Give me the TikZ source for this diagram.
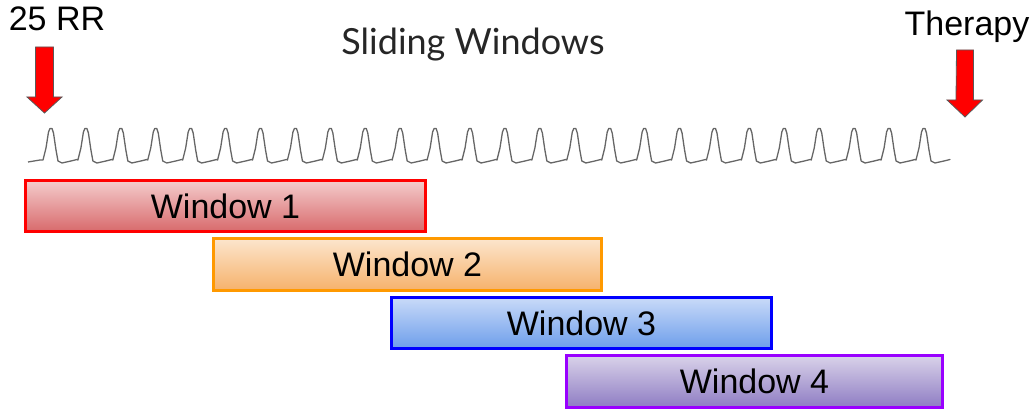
\documentclass[tikz,border=0pt]{standalone}
\usepackage{fontspec}
\setmainfont{Liberation Sans}
\newfontfamily\titlefont{Lato}
\begin{document}
\begin{tikzpicture}[x=1pt,y=-1pt,
  win/.style={draw, line width=3pt, inner sep=0pt, font=\fontsize{34}{36}\selectfont},
  lbl/.style={anchor=base, inner sep=0pt, font=\fontsize{34}{36}\selectfont},
  blockarrow/.style={fill=red, draw=black!65, line width=0.8pt, line join=miter},
  ecg/.style={draw=black!60, line width=1.3pt, line join=round}
]
\definecolor{rb}{HTML}{FF0000}\definecolor{rt}{HTML}{F4CCCC}\definecolor{rbot}{HTML}{D86A6C}
\definecolor{ob}{HTML}{FF9900}\definecolor{ot}{HTML}{FCE5CD}\definecolor{obot}{HTML}{F6B26B}
\definecolor{bb}{HTML}{0000FF}\definecolor{bt}{HTML}{C9DAF8}\definecolor{bbot}{HTML}{6D9EEB}
\definecolor{pb}{HTML}{9900FF}\definecolor{pt}{HTML}{D9D2E9}\definecolor{pbot}{HTML}{8E7CC3}
\useasboundingbox (0,0) rectangle (1034,411);

% labels
\node[lbl] (rr) at (57,31) {25 RR};
\node[lbl] (th) at (967,36) {Therapy};
\node[anchor=base, inner sep=0pt, font=\titlefont\fontsize{36}{40}\selectfont, text=black!85] (title) at (473,55) {Sliding Windows};

% block arrows
\coordinate (la) at (44.5,113);
\draw[blockarrow] (la) ++(-9,-66) -- ++(18,0) -- ++(0,50) -- ++(8.5,0) -- (la) -- ++(-17.5,-16) -- ++(8.5,0) -- cycle;
\coordinate (ra) at (965,117);
\draw[blockarrow] (ra) ++(-8.5,-67) -- ++(17,0) -- ++(0,50) -- ++(9,0) -- (ra) -- ++(-18,-17) -- ++(9,0) -- cycle;

% ECG trace
\draw[ecg] (28,162) -- (40,160)
  \foreach \i in {0,...,25} {
    -- ({51+34.92*\i-8},160) -- ({51+34.92*\i-5},148) -- ({51+34.92*\i-2.5},132) -- ({51+34.92*\i-1},128.5) -- ({51+34.92*\i+1},128.5) -- ({51+34.92*\i+2.5},133)
    -- ({51+34.92*\i+5},150) -- ({51+34.92*\i+7},161) -- ({51+34.92*\i+11},163) -- ({51+34.92*\i+20},161) -- ({51+34.92*\i+26},159.5)
  } -- (948,160);

% windows
\node[win, draw=rb, top color=rt, bottom color=rbot, minimum width=400pt, minimum height=51pt] (w1) at (225.5,206) {Window 1};
\node[win, draw=ob, top color=ot, bottom color=obot, minimum width=388pt, minimum height=52pt] (w2) at (407.5,264.5) {Window 2};
\node[win, draw=bb, top color=bt, bottom color=bbot, minimum width=380pt, minimum height=51pt] (w3) at (581.5,323) {Window 3};
\node[win, draw=pb, top color=pt, bottom color=pbot, minimum width=376pt, minimum height=52pt] (w4) at (754.5,381.5) {Window 4};
\end{tikzpicture}
\end{document}
